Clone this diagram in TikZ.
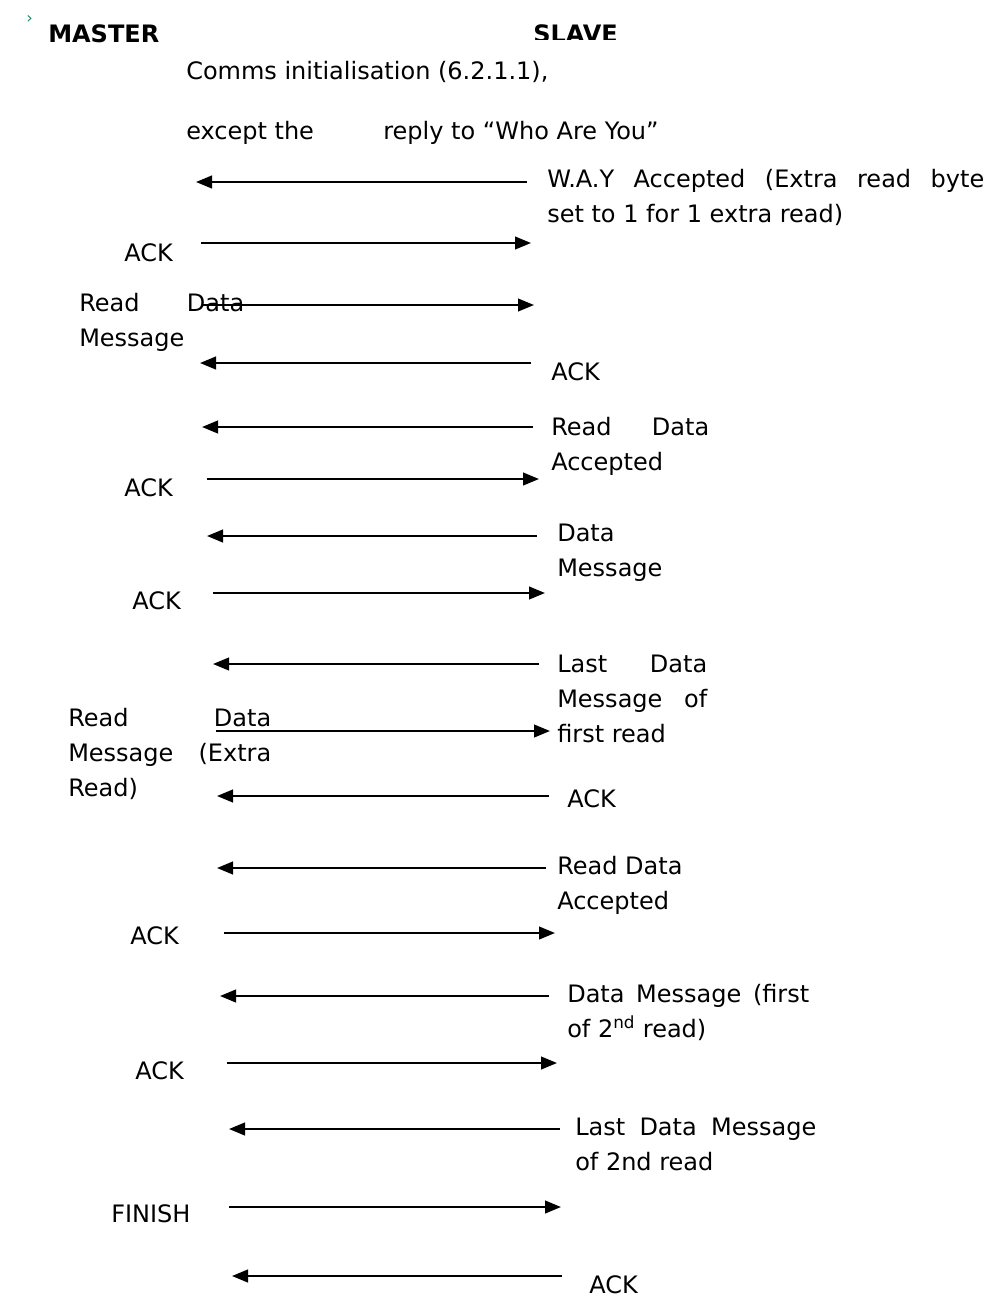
\documentclass[tikz,border=0pt]{standalone}
\usepackage{fontspec}
\setmainfont{DejaVu Sans}
\usepackage{tikz}
\usetikzlibrary{arrows.meta}

\definecolor{bullet}{RGB}{20,140,110}
\newcommand{\stretchline}[2]{\makebox[#1][s]{#2}}

\begin{document}
\begin{tikzpicture}[
  x=0.75pt, y=-0.75pt,
  font=\fontsize{18}{26.25}\selectfont,
  lbl/.style={anchor=base west, inner sep=0pt, align=left},
  head/.style={lbl, font=\fontsize{18}{26.25}\selectfont\bfseries},
  msg/.style={-{Triangle[length=12pt, width=9.5pt]}, line width=1.6pt}
]
\useasboundingbox (0,0) rectangle (994,1297);

% header
\node[anchor=base west, inner sep=0pt, text=bullet, font=\fontsize{12}{14}\selectfont] (mark) at (26,23) {›};
\node[head] (master) at (48,42) {MASTER};
\begin{scope}
  \clip (520,0) rectangle (650,39);
  \node[head] (slave) at (533,42) {SLAVE};
\end{scope}
\node[lbl] (comms) at (186,79) {Comms initialisation (6.2.1.1),};
\node[lbl] (except) at (186,139) {except the\hspace{52pt}reply to “Who Are You”};

% slave labels (base = last line)
\node[lbl] (way) at (547,222) {\stretchline{327.75pt}{W.A.Y Accepted (Extra read byte}\\set to 1 for 1 extra read)};
\node[lbl] (sack1) at (551,380) {ACK};
\node[lbl] (rdacc1) at (551,470) {\stretchline{118.5pt}{Read Data}\\Accepted};
\node[lbl] (data1) at (557,576) {Data\\Message};
\node[lbl] (last1) at (557,742) {\stretchline{112.5pt}{Last Data}\\\stretchline{112.5pt}{Message of}\\first read};
\node[lbl] (sack2) at (567,807) {ACK};
\node[lbl] (rdacc2) at (557,909) {Read Data\\Accepted};
\node[lbl] (data2) at (567,1037) {\stretchline{181.5pt}{Data Message (first}\\of 2\textsuperscript{nd} read)};
\node[lbl] (last2) at (575,1170) {\stretchline{180.75pt}{Last Data Message}\\of 2nd read};
\node[lbl] (sack3) at (589,1293) {ACK};

% master labels
\node[lbl] (mack1) at (124,261) {ACK};
\node[lbl] (rdmsg1) at (79,346) {\stretchline{123.75pt}{Read Data}\\Message};
\node[lbl] (mack2) at (124,496) {ACK};
\node[lbl] (mack3) at (132,609) {ACK};
\node[lbl] (rdmsg2) at (68,796) {\stretchline{152.25pt}{Read Data}\\\stretchline{152.25pt}{Message (Extra}\\Read)};
\node[lbl] (mack4) at (130,944) {ACK};
\node[lbl] (mack5) at (135,1079) {ACK};
\node[lbl] (finish) at (111,1222) {FINISH};

% arrow ends
\coordinate (s1) at (527,182);  \coordinate (m1) at (196,182);
\coordinate (m2) at (201,243);  \coordinate (s2) at (531,243);
\coordinate (m3) at (203,305);  \coordinate (s3) at (534,305);
\coordinate (s4) at (531,363);  \coordinate (m4) at (200,363);
\coordinate (s5) at (533,427);  \coordinate (m5) at (202,427);
\coordinate (m6) at (207,479);  \coordinate (s6) at (539,479);
\coordinate (s7) at (537,536);  \coordinate (m7) at (207,536);
\coordinate (m8) at (213,593);  \coordinate (s8) at (545,593);
\coordinate (s9) at (539,664);  \coordinate (m9) at (213,664);
\coordinate (m10) at (216,731); \coordinate (s10) at (550,731);
\coordinate (s11) at (549,796); \coordinate (m11) at (217,796);
\coordinate (s12) at (546,868); \coordinate (m12) at (217,868);
\coordinate (m13) at (224,933); \coordinate (s13) at (555,933);
\coordinate (s14) at (549,996); \coordinate (m14) at (220,996);
\coordinate (m15) at (227,1063); \coordinate (s15) at (557,1063);
\coordinate (s16) at (560,1129); \coordinate (m16) at (229,1129);
\coordinate (m17) at (229,1207); \coordinate (s17) at (561,1207);
\coordinate (s18) at (562,1276); \coordinate (m18) at (232,1276);

% messages
\draw[msg] (s1) -- (m1);
\draw[msg] (m2) -- (s2);
\draw[msg] (m3) -- (s3);
\draw[msg] (s4) -- (m4);
\draw[msg] (s5) -- (m5);
\draw[msg] (m6) -- (s6);
\draw[msg] (s7) -- (m7);
\draw[msg] (m8) -- (s8);
\draw[msg] (s9) -- (m9);
\draw[msg] (m10) -- (s10);
\draw[msg] (s11) -- (m11);
\draw[msg] (s12) -- (m12);
\draw[msg] (m13) -- (s13);
\draw[msg] (s14) -- (m14);
\draw[msg] (m15) -- (s15);
\draw[msg] (s16) -- (m16);
\draw[msg] (m17) -- (s17);
\draw[msg] (s18) -- (m18);
\end{tikzpicture}
\end{document}
